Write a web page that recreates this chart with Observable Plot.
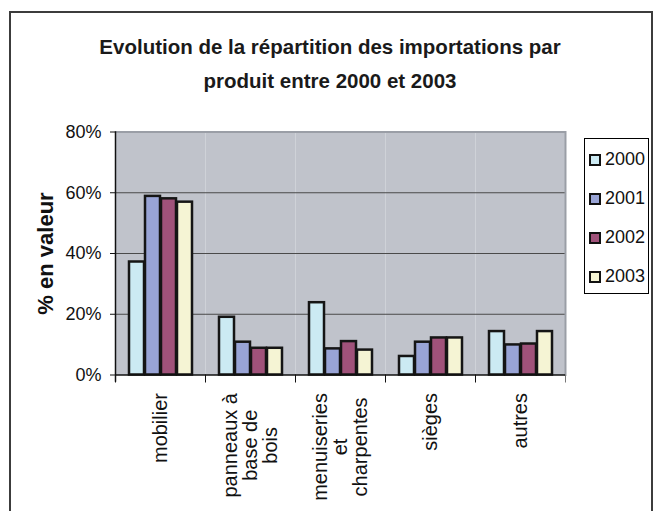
<!DOCTYPE html>
<html><head><meta charset="utf-8">
<script src="https://cdn.jsdelivr.net/npm/d3@7"></script>
<script src="https://cdn.jsdelivr.net/npm/@observablehq/plot@0.6"></script>
<style>
  html, body { margin: 0; padding: 0; background: #fff; }
  #wrap { position: relative; width: 660px; height: 511px; overflow: hidden; }
  #border { position: absolute; left: 9px; top: 11px; width: 644px; height: 560px; border: 2px solid #3c3c3c; box-sizing: border-box; }
  #title { position: absolute; left: 0; top: 30px; width: 660px; text-align: center;
    font-family: "Liberation Sans", Arial, sans-serif; font-weight: bold; font-size: 20.5px; line-height: 34px; color: #1a1a1a; }
  #chart { position: absolute; left: 0; top: 0; }
  #legend { position: absolute; left: 584px; top: 138px; width: 65px; height: 156px; border: 1px solid #000; box-sizing: border-box; background: #fff; padding-top: 1px; }
  .lg-swatches-columns { columns: 1 !important; margin: 0 !important; }
  .lg-swatch { display: flex; align-items: center; height: 39px; padding: 0 !important; margin: 0 0 0 5px;
    font-family: "Liberation Sans", Arial, sans-serif; font-size: 18px; color: #111; overflow: visible !important; }
  .lg-swatch > * { overflow: visible !important; text-overflow: clip !important; }
  .lg-swatch svg { margin-right: 5px !important; overflow: visible; flex-shrink: 0; }
  .lg-swatch svg rect { stroke: #111; stroke-width: 2px; }
</style>
</head><body>
<div id="wrap">
  <div id="border"></div>
  <div id="chart"></div>
  <div id="title">Evolution de la répartition des importations par<br>produit entre 2000 et 2003</div>
  <div id="legend"></div>
</div>
<script>
const categories = ["mobilier", "panneaux à\nbase de\nbois", "menuiseries\net\ncharpentes", "sièges", "autres"];
const years = ["2000", "2001", "2002", "2003"];
const v2000 = [37.2, 19.0, 23.8, 6.1, 14.3];
const v2001 = [58.8, 10.8, 8.6, 10.8, 9.9];
const v2002 = [58.0, 8.8, 11.0, 12.2, 10.2];
const v2003 = [56.9, 8.8, 8.2, 12.2, 14.3];
const yTicks = [0, 20, 40, 60, 80];
const colors = ["#CCEAF3", "#99A4D6", "#A0527A", "#F5F4D4"];

const series = [v2000, v2001, v2002, v2003];
const data = [];
categories.forEach((c, i) => years.forEach((y, j) => data.push({cat: c, year: y, value: series[j][i]})));

const W = 660, H = 511, mT = 131.5, mB = 136.5, mL = 114, mR = 95;
const plotH = H - mT - mB;
const regular = "'Liberation Sans', Arial, sans-serif";

const chart = Plot.plot({
  width: W, height: H,
  marginTop: mT, marginBottom: mB, marginLeft: mL, marginRight: mR,
  style: {background: "transparent", overflow: "visible"},
  fx: {domain: categories, padding: 0, label: null},
  x: {domain: years, paddingInner: 0.08, paddingOuter: 0.75, axis: null},
  y: {domain: [0, 80], label: null},
  color: {domain: years, range: colors},
  marks: [
    Plot.frame({fill: "#C0C3CB", stroke: "none"}),
    Plot.gridY({ticks: [20, 40, 60], stroke: "#4a4a4a", strokeOpacity: 1, strokeWidth: 1}),
    Plot.ruleY([80], {stroke: "#9a9ea6", strokeWidth: 2}),
    Plot.frame({anchor: "right", facetAnchor: "right", stroke: "#9a9ea6", strokeWidth: 2}),
    Plot.barY(data, {fx: "cat", x: "year", y: "value", fill: "year", stroke: "#151515", strokeWidth: 2.5}),
    Plot.ruleY([0], {stroke: "#111", strokeWidth: 1.5}),
    Plot.frame({anchor: "left", facetAnchor: "left", stroke: "#111", strokeWidth: 1.5, insetBottom: -6}),
    Plot.frame({anchor: "left", stroke: "#111", strokeWidth: 1, insetTop: plotH, insetBottom: -7}),
    Plot.frame({anchor: "right", facetAnchor: "right", stroke: "#777", strokeWidth: 1, insetTop: plotH, insetBottom: -7}),
    Plot.axisY({ticks: yTicks, tickFormat: d => d + "%", tickSize: 5, tickPadding: 9, fontSize: 18,
      fontFamily: regular, label: null, color: "#111"}),
    Plot.axisY({ticks: [], label: "% en valeur", labelAnchor: "center", labelOffset: 78, labelArrow: "none",
      fontSize: 22, fontWeight: "bold", fontFamily: regular, color: "#111"}),
    Plot.axisFx({anchor: "bottom", tickSize: 0, tickPadding: 18, tickRotate: -90, textAnchor: "end",
      lineAnchor: "middle", lineHeight: 1.0, fontSize: 20, fontFamily: regular, label: null, color: "#111"})
  ]
});
document.getElementById("chart").appendChild(chart);

// center shorter lines of multi-line category labels within the block
chart.querySelectorAll('g[aria-label="fx-axis tick label"] text').forEach(t => {
  const spans = [...t.querySelectorAll("tspan")];
  if (spans.length < 2) return;
  const ws = spans.map(s => s.getComputedTextLength());
  const m = Math.max(...ws);
  spans.forEach((s, i) => s.setAttribute("x", -(m - ws[i]) / 2));
});

const legend = Plot.legend({
  color: {domain: years, range: colors},
  legend: "swatches", columns: 1, swatchSize: 10, className: "lg"
});
document.getElementById("legend").appendChild(legend);
</script>
</body></html>
